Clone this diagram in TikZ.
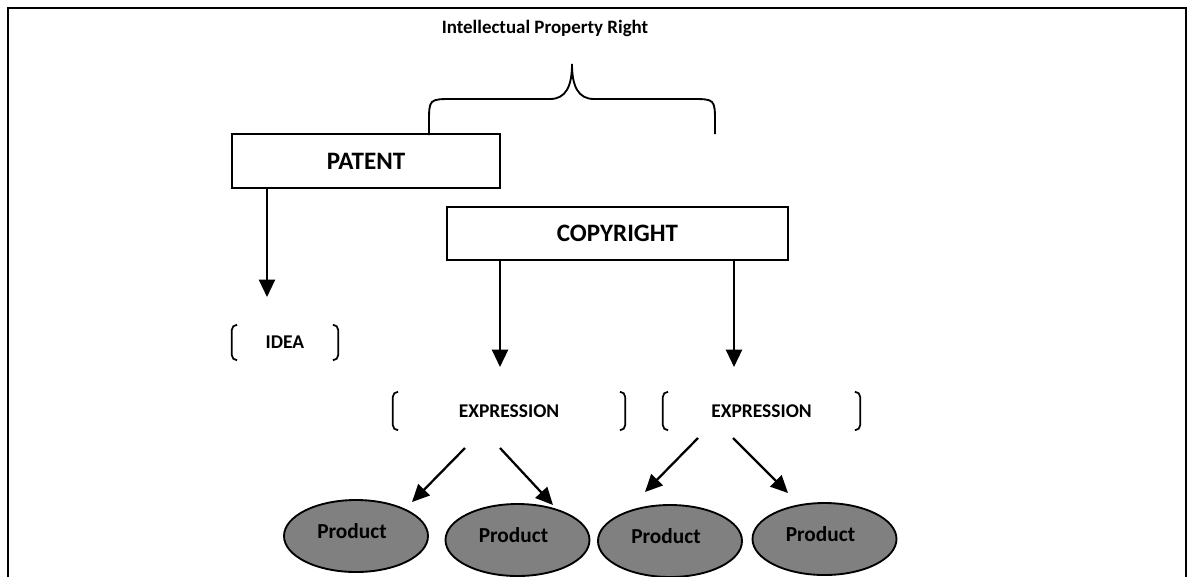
\documentclass[tikz,border=0pt]{standalone}
\usepackage{fontspec}
\setmainfont{Carlito}
\usetikzlibrary{arrows.meta,shapes.geometric}

\begin{document}
\begin{tikzpicture}[x=0.75pt,y=-0.75pt,
  every node/.style={font=\bfseries, inner sep=0pt},
  bigbox/.style={draw, line width=1.4pt, font=\bfseries\fontsize{18.8}{20}\selectfont},
  brk/.style={font=\bfseries\fontsize{14.6}{16}\selectfont},
  prod/.style={ellipse, draw, line width=1.4pt, fill=black!50,
               minimum width=108pt, minimum height=54pt},
  plabel/.style={font=\bfseries\fontsize{16}{18}\selectfont},
  arr/.style={line width=1.7pt, -{Triangle[length=13pt,width=12pt]}},
  bracketline/.style={line width=1.3pt, rounded corners=4pt}
]
\useasboundingbox (0,0) rectangle (1188,576);
\clip (0,0) rectangle (1188,576);

% outer frame (open at the bottom edge)
\draw[line width=2.2pt] (8,590) -- (8,8) -- (1186,8) -- (1186,590);

% heading and the brace under it
\node[font=\bfseries\fontsize{14.2}{16}\selectfont] (ipr) at (545,28) {Intellectual Property Right};
\draw[line width=1.4pt]
  (429,135) -- (429,123) .. controls (429,99) .. (453,99) -- (550,99)
  .. controls (566,99) and (572,86) .. (572,64)
  .. controls (572,86) and (578,99) .. (594,99) -- (691,99)
  .. controls (715,99) .. (715,123) -- (715,134);

% the two rights
\node[bigbox, minimum width=201pt, minimum height=40.5pt] (patent) at (366,161) {PATENT};
\node[bigbox, minimum width=255.75pt, minimum height=39.75pt] (copy) at (617.5,233.5) {COPYRIGHT};

% bracketed items
\node[brk, minimum width=79.5pt, minimum height=26.25pt] (idea) at (285,342.5) {IDEA};
\node[brk, minimum width=174pt, minimum height=28.5pt] (expr1) at (509,411) {EXPRESSION};
\node[brk, minimum width=147.75pt, minimum height=28.5pt] (expr2) at (761.5,411) {EXPRESSION};

\foreach \n in {idea,expr1,expr2}{
  \draw[bracketline] ([xshift=4pt]\n.north west) -- (\n.north west) -- (\n.south west) -- ([xshift=4pt]\n.south west);
  \draw[bracketline] ([xshift=-4pt]\n.north east) -- (\n.north east) -- (\n.south east) -- ([xshift=-4pt]\n.south east);
}

% products
\node[prod] (p1) at (356,536) {};
\node[prod] (p2) at (517.5,540) {};
\node[prod] (p3) at (670,541) {};
\node[prod] (p4) at (824.5,539) {};
\foreach \n in {p1,p2,p3,p4}{
  \node[plabel] at ([xshift=-3pt,yshift=3.5pt]\n.center) {Product};
}

% arrow end points
\coordinate (pa) at (267,297);
\coordinate (ca1) at (500,367);
\coordinate (ca2) at (734,367);
\coordinate (e1a) at (465,448);
\coordinate (e1b) at (500,448);
\coordinate (e2a) at (698,438);
\coordinate (e2b) at (733,438);
\coordinate (t1) at (412,502);
\coordinate (t2) at (553,505);
\coordinate (t3) at (645,492);
\coordinate (t4) at (788,493);

\draw[arr] (pa |- patent.south) -- (pa);
\draw[arr] (ca1 |- copy.south) -- (ca1);
\draw[arr] (ca2 |- copy.south) -- (ca2);
\draw[arr] (e1a) -- (t1);
\draw[arr] (e1b) -- (t2);
\draw[arr] (e2a) -- (t3);
\draw[arr] (e2b) -- (t4);
\end{tikzpicture}
\end{document}
